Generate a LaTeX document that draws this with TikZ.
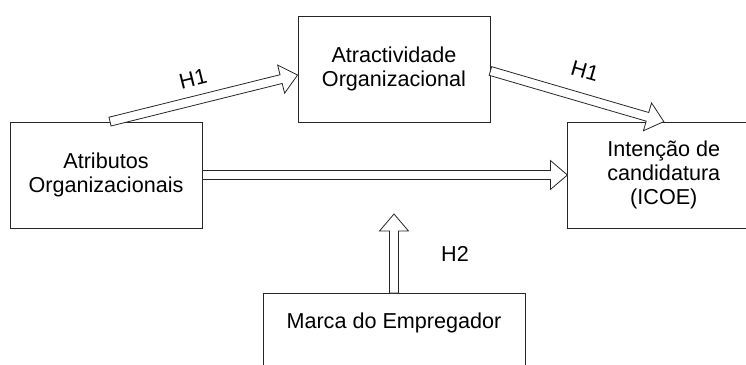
\documentclass[tikz,border=0pt]{standalone}
\usepackage{fontspec}
\setmainfont{Liberation Sans}
\usepackage{tikz}
\usetikzlibrary{calc, positioning}

\newcommand{\setaoca}[2]{%
  \coordinate (cauda) at (#1);
  \coordinate (ponta) at (#2);
  \coordinate (colo) at ($(ponta)!17pt!(cauda)$);
  \draw[seta] ($(cauda)!4.5pt!90:(ponta)$) -- ($(colo)!4.5pt!90:(ponta)$)
    -- ($(colo)!14.5pt!90:(ponta)$) -- (ponta)
    -- ($(colo)!14.5pt!-90:(ponta)$) -- ($(colo)!4.5pt!-90:(ponta)$)
    -- ($(cauda)!4.5pt!-90:(ponta)$) -- cycle;
}

\begin{document}
\begin{tikzpicture}[x=1pt, y=-1pt,
    font=\fontsize{21.6}{24}\selectfont,
    caixa/.style={draw=black!85, line width=0.8pt, minimum width=192pt, minimum height=106pt, inner sep=0pt, align=center},
    seta/.style={draw=black!85, line width=0.8pt, fill=white, line join=miter},
    rotulo/.style={inner sep=0pt}]
                \clip (0,0) rectangle (746,364);
                \node[caixa] (atrib) at (106,175) {Atributos\\Organizacionais};
                \node[caixa] (atract) at (394,69) {Atractividade\\Organizacional};
                \node[caixa, right=365pt of atrib] (intencao) {Intenção de\\candidatura\\(ICOE)};
                \node[caixa, anchor=north, minimum width=262pt, minimum height=0pt, text height=35pt, text depth=71pt] (marca) at (394,293) {Marca do Empregador};
                \coordinate (topoH2) at (394,214);
                \setaoca{[xshift=4pt]atrib.north}{[yshift=-6pt]atract.west}
                \setaoca{[yshift=-2pt]atract.east}{intencao.north}
                \setaoca{atrib.east}{intencao.west}
                \setaoca{marca.north}{topoH2}
                \node[rotulo, rotate=14] (h1a) at (193,79) {H1};
                \node[rotulo, rotate=-16] (h1b) at (585,71) {H1};
                \node[rotulo] (h2) at (455,254) {H2};
            \end{tikzpicture}
\end{document}
